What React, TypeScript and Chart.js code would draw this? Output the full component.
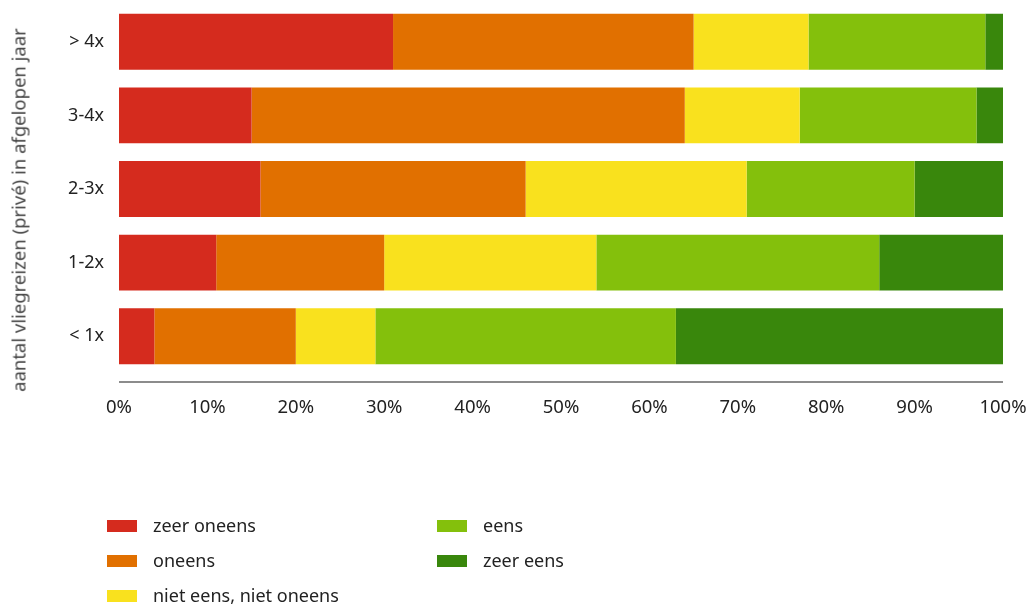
import React, { useEffect, useRef } from "react";
import { Chart, registerables } from "chart.js";
Chart.register(...registerables);

const categories = ["> 4x", "3-4x", "2-3x", "1-2x", "< 1x"];
const zeerOneens = [31, 15, 16, 11, 4];
const oneens = [34, 49, 30, 19, 16];
const neutraal = [13, 13, 25, 24, 9];
const eens = [20, 20, 19, 32, 34];
const zeerEens = [2, 3, 10, 14, 37];
const seriesNames = ["zeer oneens", "oneens", "niet eens, niet oneens", "eens", "zeer eens"];
const seriesValues = [zeerOneens, oneens, neutraal, eens, zeerEens];
const seriesColors = ["#d52b1e", "#e17000", "#f9e11e", "#84c00c", "#39870c"];
const yTitle = "aantal vliegreizen (privé) in afgelopen jaar";

const FONT = "'Noto Sans', 'Open Sans', sans-serif";

const axisLinePlugin = {
  id: "axisLine",
  afterDraw(chart: any) {
    const { ctx, chartArea } = chart;
    const y = chartArea.bottom + 9;
    ctx.save();
    ctx.strokeStyle = "#8c8c8c";
    ctx.lineWidth = 2;
    ctx.beginPath();
    ctx.moveTo(chartArea.left, y);
    ctx.lineTo(chartArea.right, y);
    ctx.stroke();
    ctx.restore();
  },
};

export default function App() {
  const ref = useRef<HTMLCanvasElement>(null);
  useEffect(() => {
    document.body.style.margin = "0";
    const chart = new Chart(ref.current!, {
      type: "bar",
      data: {
        labels: categories,
        datasets: seriesNames.map((name, i) => ({
          label: name,
          data: seriesValues[i],
          backgroundColor: seriesColors[i],
          borderWidth: 0,
          categoryPercentage: 1,
          barPercentage: 0.76,
        })),
      },
      options: {
        indexAxis: "y",
        animation: false,
        responsive: false,
        maintainAspectRatio: false,
        layout: { padding: { left: 0, right: 26, top: 5, bottom: 183 } },
        plugins: { legend: { display: false }, tooltip: { enabled: false } },
        scales: {
          x: {
            stacked: true,
            min: 0,
            max: 100,
            grid: { display: false, drawTicks: false },
            border: { display: false },
            ticks: {
              stepSize: 10,
              padding: 24,
              color: "#222",
              font: { family: FONT, size: 18.5 },
              callback: (v: any) => v + "%",
            },
            afterFit: (s: any) => {
              s.height = 50;
              s.paddingLeft = 0;
              s.paddingRight = 0;
            },
          },
          y: {
            stacked: true,
            grid: { display: false, drawTicks: false },
            border: { display: false },
            ticks: { padding: 15, color: "#222", font: { family: FONT, size: 18 } },
            afterFit: (s: any) => {
              s.width = 119;
              s.paddingTop = 0;
              s.paddingBottom = 0;
            },
          },
        },
      },
      plugins: [axisLinePlugin],
    });
    return () => chart.destroy();
  }, []);

  const legendItem = (i: number, left: number, top: number) => (
    <div key={i} style={{ position: "absolute", left, top, display: "flex", alignItems: "center", height: 24 }}>
      <div style={{ width: 30, height: 12, background: seriesColors[i] }} />
      <div style={{ marginLeft: 16, marginTop: -3, fontFamily: FONT, fontSize: 18, color: "#222", whiteSpace: "nowrap" }}>
        {seriesNames[i]}
      </div>
    </div>
  );

  return (
    <div style={{ position: "relative", width: 1029, height: 606 }}>
      <canvas ref={ref} width={1029} height={606} style={{ position: "absolute", left: 0, top: 0 }} />
      <div
        style={{
          position: "absolute",
          left: 18,
          top: 210,
          transform: "translate(-50%, -50%) rotate(-90deg)",
          fontFamily: FONT,
          fontSize: 18.5,
          color: "#444",
          whiteSpace: "nowrap",
        }}
      >
        {yTitle}
      </div>
      {legendItem(0, 107, 514)}
      {legendItem(1, 107, 549)}
      {legendItem(2, 107, 584)}
      {legendItem(3, 437, 514)}
      {legendItem(4, 437, 549)}
    </div>
  );
}
